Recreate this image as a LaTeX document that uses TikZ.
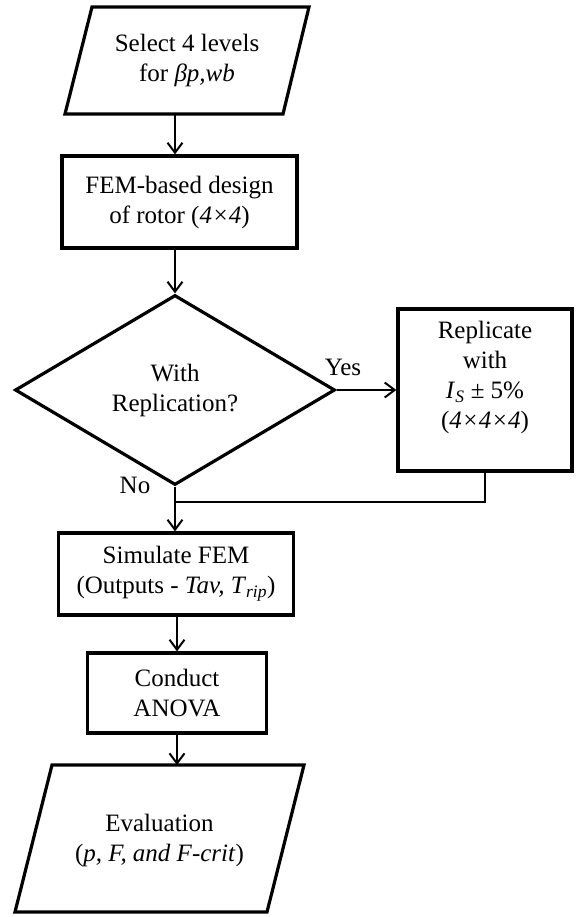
\documentclass[tikz,border=0pt]{standalone}
\usepackage{fontspec}
\setmainfont{Liberation Serif}
\usetikzlibrary{arrows.meta,shapes.geometric}
\begin{document}
\begin{tikzpicture}[x=1pt,y=-1pt,
  font=\fontsize{25}{30}\selectfont,
  box/.style={draw,line width=3.2pt,rectangle,inner sep=0pt,align=center},
  outline/.style={draw,line width=3.2pt},
  conn/.style={line width=2pt,-{Straight Barb[length=10pt,width=15pt]}},
  plain/.style={line width=2pt}]
\useasboundingbox (0,0) rectangle (575,917);
% input parallelogram
\draw[outline] (92,7) -- (309,7) -- (283,114) -- (65,114) -- cycle;
\node[align=center] (sel) at (187,60) {Select 4 levels\\for \textit{βp,wb}};
\coordinate (selb) at (175,114);
% FEM box
\node[box, minimum width=235pt, minimum height=92pt] (fem) at (179.5,202) {FEM-based design\\of rotor (\textit{4×4})};
% decision
\node[draw, diamond, line width=3.2pt, minimum width=320pt, minimum height=190pt, inner sep=0pt, aspect=1.68, align=center] (dec) at (175,390) {With\\Replication?};
% replicate
\node[box, minimum width=174pt, minimum height=162pt] (rep) at (485,390) {Replicate\\with\\\textit{I}\textsubscript{\textit{S}} ± 5\%\\(\textit{4×4×4})\\\mbox{}};
% simulate
\node[box, minimum width=235pt, minimum height=82pt] (sim) at (176,574) {Simulate FEM\\(Outputs - \textit{Tav, T}\textsubscript{\textit{rip}})};
% conduct
\node[box, minimum width=179pt, minimum height=80pt] (con) at (177,693) {Conduct\\ANOVA};
% evaluation parallelogram
\draw[outline] (52,765) -- (304,765) -- (267,912) -- (15,912) -- cycle;
\node[align=center] (eval) at (159.5,840) {Evaluation\\(\textit{p, F, and F-crit})};
\coordinate (evalt) at (177,765);
% labels
\node (yes) at (343,367) {Yes};
\node (no) at (135,485) {No};
\coordinate (join) at (175,502);
% connectors
\draw[conn] (selb) -- (selb |- fem.north);
\draw[conn] (fem.south -| dec.north) -- (dec.north);
\draw[conn] (dec.east) -- (rep.west);
\draw[conn] (dec.south) -- (dec.south |- sim.north);
\draw[plain] (rep.south) |- (join);
\draw[conn] (sim.south -| con.north) -- (con.north);
\draw[conn] (con.south) -- (evalt);
\end{tikzpicture}
\end{document}
